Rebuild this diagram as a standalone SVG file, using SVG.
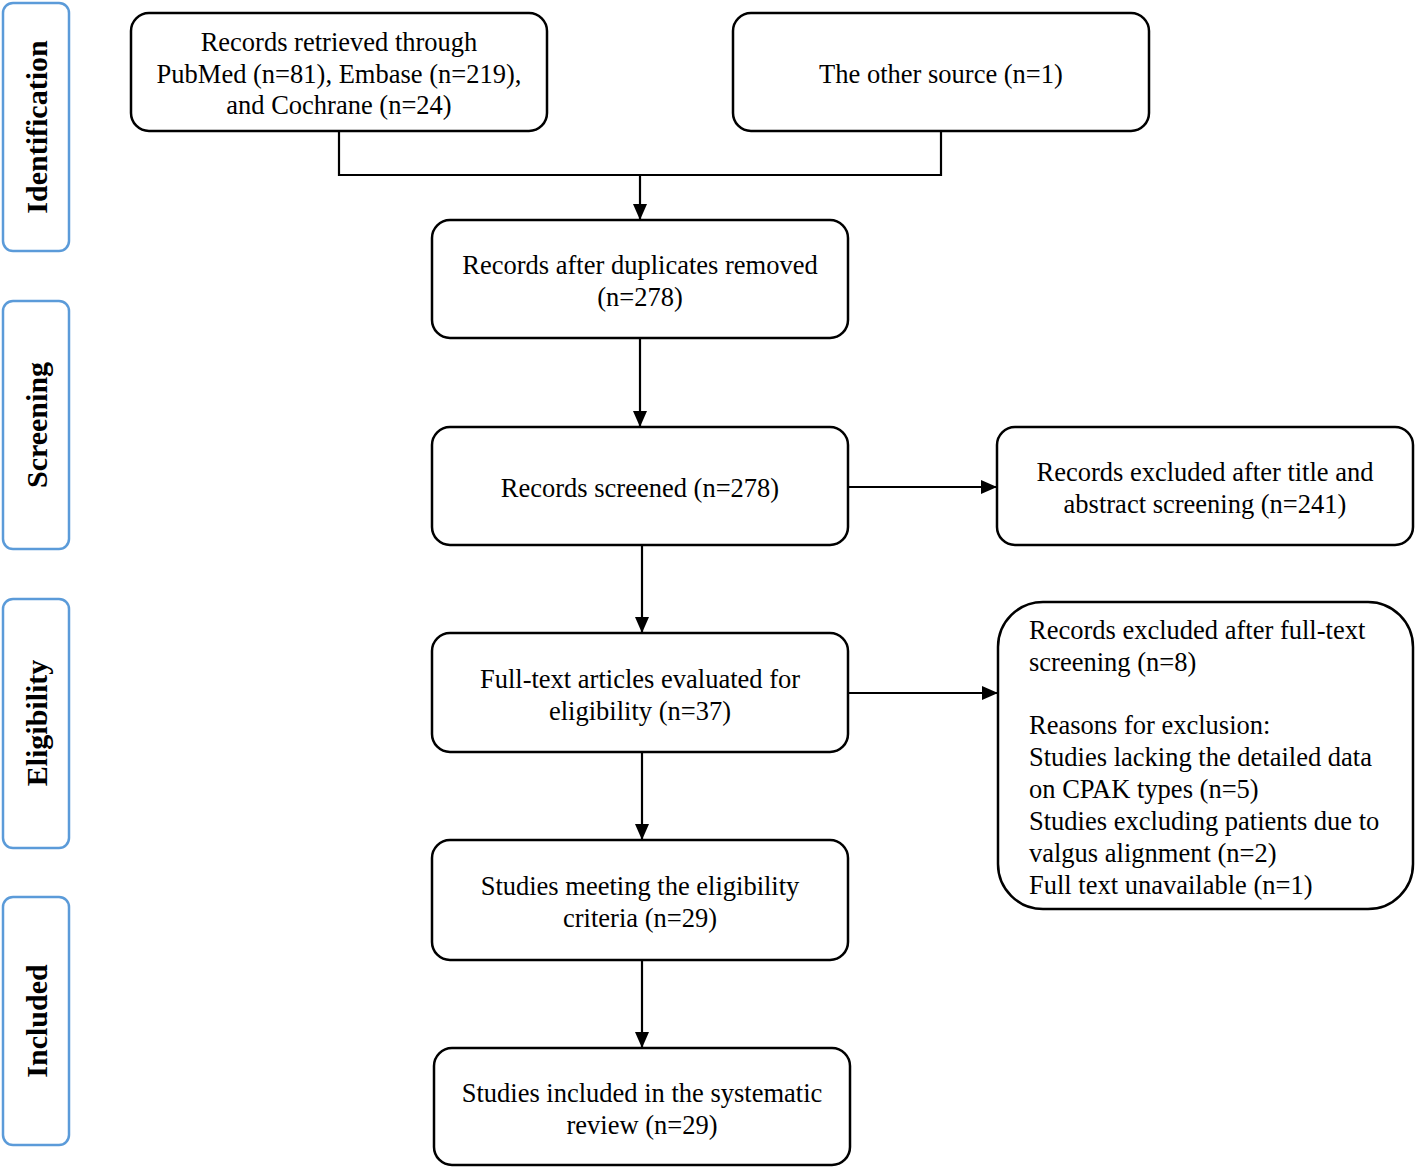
<svg xmlns="http://www.w3.org/2000/svg" width="1418" height="1169" viewBox="0 0 1418 1169">
<style>
.side{fill:#fff;stroke:#5b9bd9;stroke-width:2.5}
.box{fill:#fff;stroke:#000;stroke-width:2.5}
.t{font-family:"Liberation Serif","Times New Roman",serif;font-size:26.5px;fill:#000;text-anchor:middle}
.tl{font-family:"Liberation Serif","Times New Roman",serif;font-size:26.5px;fill:#000}
.st{font-family:"Liberation Serif","Times New Roman",serif;font-size:30px;font-weight:bold;fill:#000;text-anchor:middle}
.c{fill:none;stroke:#000;stroke-width:2.2}
</style>
<defs>
<marker id="ah" markerWidth="16" markerHeight="14" refX="15" refY="7" orient="auto" markerUnits="userSpaceOnUse">
<path d="M0,0 L16,7 L0,14 Z" fill="#000"/>
</marker>
</defs>
<rect width="1418" height="1169" fill="#fff"/>
<g id="stage-identification">
<rect class="side" x="3" y="3" width="66" height="248" rx="10"/>
<text class="st" transform="translate(47,127) rotate(-90)">Identification</text>
</g>
<g id="stage-screening">
<rect class="side" x="3" y="301" width="66" height="248" rx="10"/>
<text class="st" transform="translate(47,425) rotate(-90)">Screening</text>
</g>
<g id="stage-eligibility">
<rect class="side" x="3" y="599" width="66" height="249" rx="10"/>
<text class="st" transform="translate(47,723) rotate(-90)">Eligibility</text>
</g>
<g id="stage-included">
<rect class="side" x="3" y="897" width="66" height="248" rx="10"/>
<text class="st" transform="translate(47,1021) rotate(-90)">Included</text>
</g>
<g id="connectors">
<path class="c" d="M339,131 V175 H941 V131"/>
<path class="c" d="M640,175 V219" marker-end="url(#ah)"/>
<path class="c" d="M640,338 V426" marker-end="url(#ah)"/>
<path class="c" d="M848,487 H996" marker-end="url(#ah)"/>
<path class="c" d="M642,545 V632" marker-end="url(#ah)"/>
<path class="c" d="M848,693 H997" marker-end="url(#ah)"/>
<path class="c" d="M642,752 V839" marker-end="url(#ah)"/>
<path class="c" d="M642,960 V1047" marker-end="url(#ah)"/>
</g>
<g id="n-databases">
<rect class="box" x="131" y="13" width="416" height="118" rx="18"/>
<text class="t" x="339" y="51">Records retrieved through</text>
<text class="t" x="339" y="83">PubMed (n=81), Embase (n=219),</text>
<text class="t" x="339" y="114">and Cochrane (n=24)</text>
</g>
<g id="n-other">
<rect class="box" x="733" y="13" width="416" height="118" rx="18"/>
<text class="t" x="941" y="83">The other source (n=1)</text>
</g>
<g id="n-dedup">
<rect class="box" x="432" y="220" width="416" height="118" rx="18"/>
<text class="t" x="640" y="274">Records after duplicates removed</text>
<text class="t" x="640" y="306">(n=278)</text>
</g>
<g id="n-screened">
<rect class="box" x="432" y="427" width="416" height="118" rx="18"/>
<text class="t" x="640" y="497">Records screened (n=278)</text>
</g>
<g id="n-excluded1">
<rect class="box" x="997" y="427" width="416" height="118" rx="18"/>
<text class="t" x="1205" y="481">Records excluded after title and</text>
<text class="t" x="1205" y="513">abstract screening (n=241)</text>
</g>
<g id="n-fulltext">
<rect class="box" x="432" y="633" width="416" height="119" rx="18"/>
<text class="t" x="640" y="688">Full-text articles evaluated for</text>
<text class="t" x="640" y="720">eligibility (n=37)</text>
</g>
<g id="n-excluded2">
<rect class="box" x="998" y="602" width="415" height="307" rx="45"/>
<text class="tl" x="1029" y="639">Records excluded after full-text</text>
<text class="tl" x="1029" y="671">screening (n=8)</text>
<text class="tl" x="1029" y="734">Reasons for exclusion:</text>
<text class="tl" x="1029" y="766">Studies lacking the detailed data</text>
<text class="tl" x="1029" y="798">on CPAK types (n=5)</text>
<text class="tl" x="1029" y="830">Studies excluding patients due to</text>
<text class="tl" x="1029" y="862">valgus alignment (n=2)</text>
<text class="tl" x="1029" y="894">Full text unavailable (n=1)</text>
</g>
<g id="n-eligible">
<rect class="box" x="432" y="840" width="416" height="120" rx="18"/>
<text class="t" x="640" y="895">Studies meeting the eligibility</text>
<text class="t" x="640" y="927">criteria (n=29)</text>
</g>
<g id="n-included">
<rect class="box" x="434" y="1048" width="416" height="117" rx="18"/>
<text class="t" x="642" y="1102">Studies included in the systematic</text>
<text class="t" x="642" y="1134">review (n=29)</text>
</g>
</svg>
